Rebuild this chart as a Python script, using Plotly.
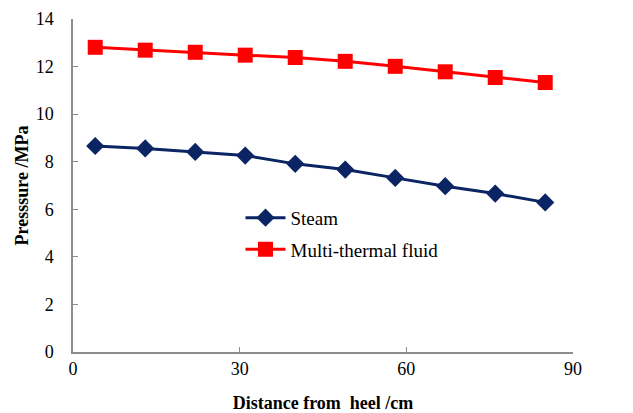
import plotly.graph_objects as go

# Distance along the well from the heel (cm)
distance_cm = [4, 13, 22, 31, 40, 49, 58, 67, 76, 85]

# Pressure profiles (MPa)
steam_mpa = [8.66, 8.56, 8.41, 8.26, 7.91, 7.67, 7.32, 6.97, 6.66, 6.29]
mtf_mpa = [12.81, 12.69, 12.60, 12.48, 12.38, 12.22, 12.01, 11.78, 11.54, 11.33]

x_ticks = [0, 30, 60, 90]
y_ticks = [0, 2, 4, 6, 8, 10, 12, 14]

SERIF = "Liberation Serif"
AXIS_GREY = "#8c8c8c"

fig = go.Figure()
fig.add_trace(go.Scatter(
    x=distance_cm, y=steam_mpa, name="Steam", mode="lines+markers",
    legendgroup="steam",
    line=dict(color="#0b2463", width=3),
    marker=dict(symbol="diamond", size=14, color="#0b2463"),
))
fig.add_trace(go.Scatter(
    x=distance_cm, y=mtf_mpa, name="Multi-thermal fluid", mode="lines+markers",
    legendgroup="mtf",
    line=dict(color="#ff0000", width=3),
    marker=dict(symbol="square", size=15, color="#ff0000"),
))

fig.update_layout(
    width=633, height=413,
    margin=dict(l=73, r=60, t=19, b=61),
    paper_bgcolor="white", plot_bgcolor="white",
    font=dict(family=SERIF, size=18, color="black"),
    showlegend=True,
    legend=dict(
        x=0.335, y=0.46, xanchor="left", yanchor="top",
        bgcolor="rgba(0,0,0,0)", tracegroupgap=4,
        font=dict(family=SERIF, size=19, color="black"),
        itemwidth=40,
    ),
)

fig.update_xaxes(
    range=[0, 90], tickvals=x_ticks, ticktext=[str(v) for v in x_ticks],
    showline=True, linecolor=AXIS_GREY, linewidth=1.5,
    ticks="inside", ticklen=5, tickcolor=AXIS_GREY,
    showgrid=False, zeroline=False, automargin=False,
    tickfont=dict(family=SERIF, size=18, color="black"),
    title=dict(text="<b>Distance from  heel /cm</b>", font=dict(family=SERIF, size=18, color="black"), standoff=22),
)
fig.update_yaxes(
    range=[0, 14], tickvals=y_ticks, ticktext=[str(v) for v in y_ticks],
    showline=True, linecolor=AXIS_GREY, linewidth=1.5,
    ticks="inside", ticklen=5, tickcolor=AXIS_GREY,
    showgrid=False, zeroline=False, automargin=False,
    tickfont=dict(family=SERIF, size=18, color="black"),
    ticklabelstandoff=14,
    title=dict(text="<b>Presssure /MPa</b>", font=dict(family=SERIF, size=18, color="black"), standoff=2),
)

fig.write_html("out.html")
